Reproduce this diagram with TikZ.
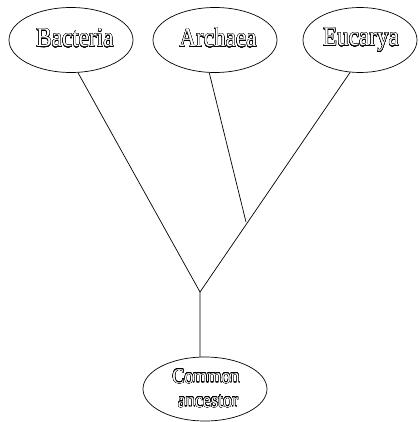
\documentclass[tikz,border=0pt]{standalone}
\usepackage{fontspec}
\setmainfont{Liberation Serif}
\usepackage{contour}
\contourlength{0.35pt}
\contournumber{24}
\usetikzlibrary{shapes.geometric}
\tikzset{
  taxon/.style={draw, ellipse, line width=0.7pt, inner sep=0pt},
  branch/.style={line width=0.7pt},
  bigname/.style={font=\fontsize{27}{30}\selectfont, inner sep=0pt},
  smallname/.style={font=\fontsize{21}{24}\selectfont, inner sep=0pt, align=center},
}
\newcommand{\outl}[1]{\scalebox{0.86}[1]{\contour{black}{\textcolor{white}{#1}}}}
\begin{document}
\begin{tikzpicture}[x=1pt,y=-1pt]
\useasboundingbox (0,0) rectangle (419,422);
\node[taxon, minimum width=124pt, minimum height=65pt] (bac) at (71,40) {};
\node[taxon, minimum width=124pt, minimum height=65pt] (arc) at (215,40) {};
\node[taxon, minimum width=114pt, minimum height=65pt] (euc) at (360,40) {};
\node[taxon, minimum width=124pt, minimum height=64pt] (com) at (205,389) {};
\node[bigname, anchor=base] (bact) at (75,47) {\outl{Bacteria}};
\node[bigname, anchor=base] (arct) at (218,47) {\outl{Archaea}};
\node[bigname, anchor=base] (euct) at (361,46) {\outl{Eucarya}};
\node[smallname, anchor=base] (comt) at (206,383) {\outl{Common}};
\node[smallname, anchor=base] (anct) at (208,407) {\outl{ancestor}};
\coordinate (fork) at (200,292);
\coordinate (junc) at (246,222);
\draw[branch] (bac.-78) -- (fork);
\draw[branch] (euc.-107) -- (fork);
\draw[branch] (arc.-100) -- (junc);
\draw[branch] (fork) -- (com.99);
\end{tikzpicture}
\end{document}
